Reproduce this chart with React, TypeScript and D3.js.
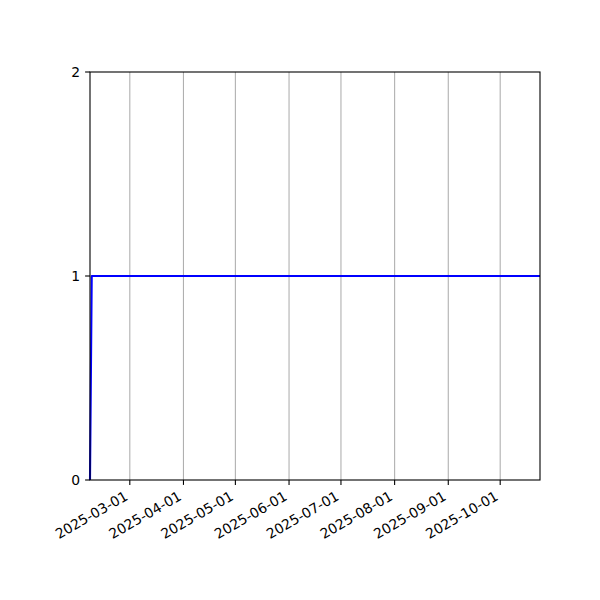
import React, {useEffect, useRef} from 'react';
import * as d3 from 'd3';

const dates: string[] = ['2025-02-06', '2025-02-07', '2025-10-24'];
const values: number[] = [0, 1, 1];
const yTicks: number[] = [0, 1, 2];
const xTickLabels: string[] = [
  '2025-03-01', '2025-04-01', '2025-05-01', '2025-06-01',
  '2025-07-01', '2025-08-01', '2025-09-01', '2025-10-01',
];

const W = 600;
const H = 600;
const m = {left: 90, right: 60, top: 72, bottom: 120};
const font = 'DejaVu Sans, sans-serif';

export default function App() {
  const el = useRef<SVGSVGElement>(null);

  useEffect(() => {
    const svg = d3.select(el.current);
    svg.selectAll('*').remove();
    const parse = d3.timeParse('%Y-%m-%d');
    const pts = dates.map((d, i) => ({date: parse(d) as Date, value: values[i]}));

    const x = d3.scaleTime()
      .domain(d3.extent(pts, d => d.date) as [Date, Date])
      .range([m.left, W - m.right]);
    const y = d3.scaleLinear().domain([0, 2]).range([H - m.bottom, m.top]);
    const ticks = xTickLabels.map(t => parse(t) as Date);

    // vertical grid
    svg.append('g')
      .selectAll('line')
      .data(ticks)
      .join('line')
      .attr('x1', d => x(d)).attr('x2', d => x(d))
      .attr('y1', y(0)).attr('y2', y(2))
      .attr('stroke', '#b0b0b0')
      .attr('stroke-width', 1.1);

    const line = d3.line<{date: Date; value: number}>()
      .x(d => x(d.date))
      .y(d => y(d.value));
    svg.append('path')
      .datum(pts)
      .attr('fill', 'none')
      .attr('stroke', 'blue')
      .attr('stroke-width', 2.1)
      .attr('stroke-linejoin', 'round')
      .attr('d', line);

    // spines
    svg.append('rect')
      .attr('x', m.left).attr('y', m.top)
      .attr('width', W - m.left - m.right)
      .attr('height', H - m.top - m.bottom)
      .attr('fill', 'none')
      .attr('stroke', 'black')
      .attr('stroke-width', 1.1);

    // x ticks
    const xg = svg.append('g');
    ticks.forEach((t, i) => {
      const px = x(t);
      xg.append('line')
        .attr('x1', px).attr('x2', px)
        .attr('y1', y(0)).attr('y2', y(0) + 4.9)
        .attr('stroke', 'black').attr('stroke-width', 1.1);
      xg.append('text')
        .attr('transform', `translate(${px - 1},${y(0) + 19}) rotate(-30)`)
        .attr('text-anchor', 'end')
        .attr('font-family', font)
        .attr('font-size', 13.9)
        .text(xTickLabels[i]);
    });

    // y ticks
    const yg = svg.append('g');
    yTicks.forEach(v => {
      const py = y(v);
      yg.append('line')
        .attr('x1', m.left - 4.9).attr('x2', m.left)
        .attr('y1', py).attr('y2', py)
        .attr('stroke', 'black').attr('stroke-width', 1.1);
      yg.append('text')
        .attr('x', m.left - 9.8)
        .attr('y', py)
        .attr('dy', '0.36em')
        .attr('text-anchor', 'end')
        .attr('font-family', font)
        .attr('font-size', 13.9)
        .text(String(v));
    });
  }, []);

  return (
    <div style={{position: 'absolute', left: 0, top: 0}}>
      <svg ref={el} width={W} height={H} style={{background: 'white', display: 'block'}} />
    </div>
  );
}
